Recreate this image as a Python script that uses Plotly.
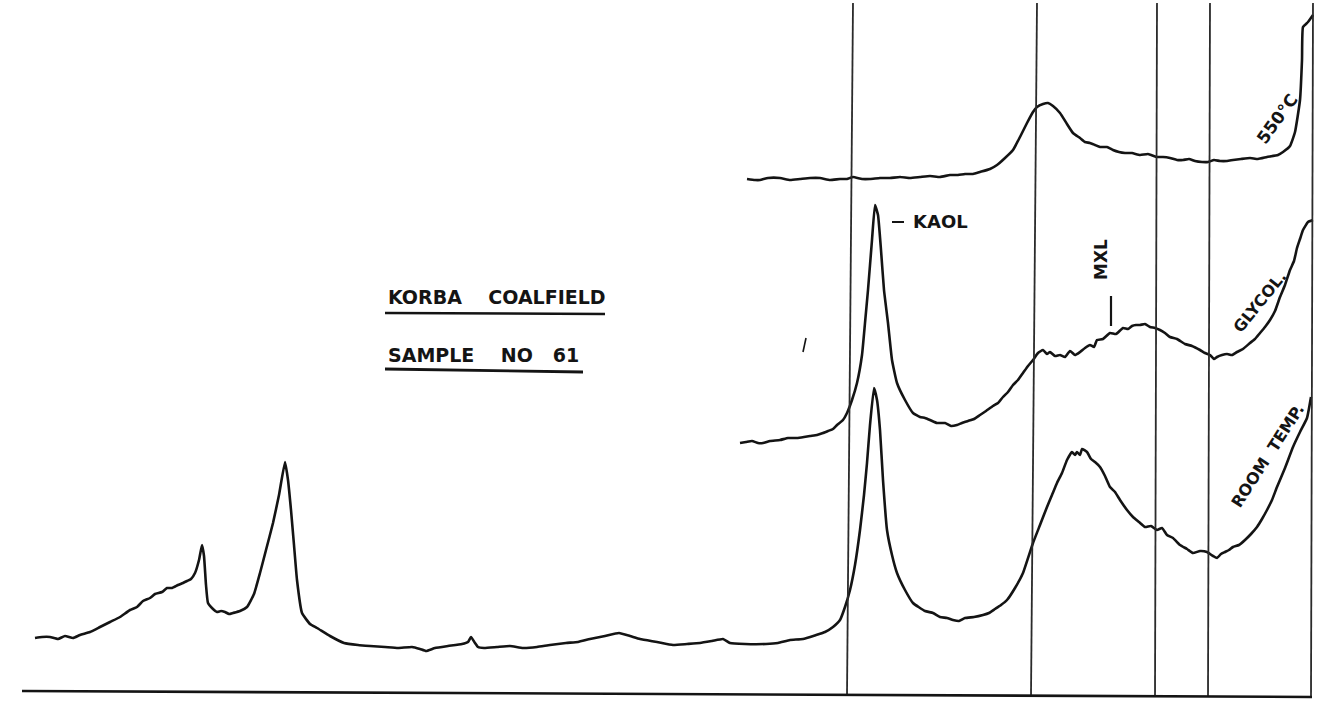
import plotly.graph_objects as go

# X-ray diffractogram traces (position along the chart, recorded intensity)
room_x = [35, 42, 50, 58, 65, 73, 80, 90, 100, 110, 120, 130, 137, 143, 150, 155, 162, 167, 172, 178, 183,
          187, 191, 195, 199, 202, 204, 206, 208, 213, 217, 221, 225, 229, 233, 240, 247, 254, 260, 266,
          273, 279, 285, 288, 291, 294, 297, 302, 310, 317, 330, 344, 358, 370, 385, 398, 412, 420, 426,
          435, 448, 462, 468, 471, 475, 478, 484, 497, 510, 523, 537, 550, 566, 578, 590, 605, 619, 630,
          640, 657, 673, 687, 700, 712, 723, 730, 745, 766, 778, 790, 803, 816, 825, 833, 840, 845, 850,
          855, 860, 864, 867, 870, 874, 877, 880, 883, 887, 892, 897, 905, 913, 925, 933, 940, 947, 953,
          959, 965, 974, 983, 989, 995, 1001, 1007, 1015, 1023, 1033, 1040, 1047, 1052, 1057, 1062, 1067,
          1072, 1075, 1077, 1080, 1082, 1087, 1091, 1095, 1100, 1105, 1110, 1115, 1120, 1127, 1133, 1139,
          1145, 1151, 1157, 1162, 1167, 1173, 1180, 1187, 1193, 1200, 1207, 1213, 1217, 1221, 1225, 1229,
          1233, 1239, 1245, 1251, 1257, 1262, 1267, 1272, 1277, 1285, 1293, 1300, 1307, 1311]
room_y = [71, 72, 72, 70, 73, 71, 74, 77, 82, 87, 92, 99, 102, 108, 111, 115, 117, 121, 121, 124, 126,
          128, 130, 136, 149, 164, 153, 124, 106, 100, 97, 98, 97, 95, 96, 98, 102, 115, 136, 159,
          186, 214, 247, 229, 199, 164, 129, 96, 85, 81, 73, 66, 64, 63, 62, 61, 62, 60, 58,
          61, 63, 65, 67, 72, 66, 62, 61, 62, 63, 61, 62, 64, 66, 67, 70, 73, 76, 73,
          70, 67, 64, 65, 66, 68, 70, 66, 65, 65, 66, 69, 70, 74, 77, 82, 89, 102, 119,
          144, 179, 214, 246, 284, 321, 309, 279, 229, 179, 154, 136, 119, 106, 98, 96, 92, 91, 89,
          88, 91, 92, 94, 96, 100, 104, 109, 121, 136, 166, 184, 202, 214, 226, 236, 249,
          257, 254, 257, 254, 260, 257, 250, 247, 242, 233, 222, 217, 209, 199, 192, 187,
          182, 183, 179, 181, 174, 171, 164, 160, 156, 158, 157, 153, 151, 155, 157, 159,
          162, 164, 169, 175, 182, 190, 199, 209, 222, 241, 262, 277, 291, 312]

glycol_x = [740, 746, 752, 758, 763, 770, 780, 788, 797, 804, 810, 817, 823, 828, 833, 837, 843, 847, 852,
            857, 862, 865, 868, 872, 875, 878, 881, 884, 888, 892, 897, 905, 913, 920, 925, 930, 937, 945,
            951, 957, 962, 968, 974, 980, 986, 993, 998, 1003, 1008, 1013, 1018, 1023, 1028, 1033, 1038,
            1043, 1047, 1050, 1055, 1060, 1065, 1070, 1075, 1080, 1085, 1090, 1094, 1097, 1103, 1110, 1116,
            1123, 1128, 1132, 1136, 1140, 1145, 1150, 1155, 1160, 1165, 1170, 1177, 1185, 1192, 1200, 1205,
            1210, 1214, 1217, 1222, 1227, 1232, 1237, 1243, 1250, 1255, 1260, 1265, 1270, 1275, 1280, 1285,
            1290, 1294, 1297, 1300, 1303, 1308, 1313]
glycol_y = [266, 267, 268, 266, 266, 268, 269, 271, 271, 272, 273, 274, 276, 278, 280, 284, 289, 296, 309,
            326, 354, 386, 419, 469, 504, 494, 459, 419, 386, 349, 326, 309, 296, 292, 291, 289, 286, 286,
            283, 284, 286, 288, 290, 294, 298, 303, 306, 312, 317, 324, 329, 336, 343, 349, 356,
            359, 355, 357, 353, 354, 352, 358, 354, 357, 361, 364, 362, 369, 370, 376, 375,
            381, 380, 383, 384, 384, 385, 382, 381, 379, 376, 372, 370, 365, 363, 359, 356,
            354, 350, 352, 354, 355, 354, 357, 360, 366, 370, 376, 382, 389, 398, 412, 424,
            439, 448, 461, 470, 479, 487, 489]

heated_x = [747, 755, 760, 768, 780, 790, 800, 810, 820, 830, 840, 847, 853, 862, 870, 880, 890, 900, 910,
            920, 930, 940, 950, 958, 965, 973, 980, 990, 997, 1005, 1013, 1020, 1027, 1033, 1037, 1043,
            1048, 1053, 1060, 1067, 1073, 1080, 1085, 1090, 1095, 1100, 1107, 1113, 1119, 1125, 1132,
            1140, 1148, 1157, 1163, 1170, 1177, 1183, 1189, 1195, 1202, 1208, 1214, 1220, 1227, 1233,
            1241, 1250, 1258, 1267, 1278, 1283, 1290, 1295, 1300, 1302, 1303, 1308, 1313]
heated_y = [530, 529, 529, 531, 531, 529, 530, 531, 531, 529, 530, 530, 532, 530, 530, 531, 531, 532, 531,
            532, 533, 532, 534, 534, 535, 535, 537, 540, 544, 551, 559, 572, 586, 597, 602, 605,
            606, 603, 596, 585, 576, 571, 567, 566, 564, 562, 562, 559, 557, 556, 556,
            554, 555, 552, 552, 551, 549, 549, 550, 548, 547, 547, 549, 548, 548, 549,
            550, 551, 550, 552, 554, 557, 563, 577, 609, 649, 682, 687, 694]

# Reference reflection positions (top, bottom of each ruled line)
ref_top = [853, 1037, 1157, 1210, 1313]
ref_bottom = [847, 1031, 1155, 1208, 1311]

INK = "#141414"
FONT = "DejaVu Sans"

fig = go.Figure()
for xs, ys in [(room_x, room_y), (glycol_x, glycol_y), (heated_x, heated_y)]:
    fig.add_trace(go.Scatter(x=xs, y=ys, mode="lines",
                             line=dict(color=INK, width=2.6, shape="spline", smoothing=0.4),
                             hoverinfo="skip", showlegend=False))

shapes = []
for xt, xb in zip(ref_top, ref_bottom):
    shapes.append(dict(type="line", xref="x", yref="y", x0=xb, y0=13, x1=xt, y1=706,
                       line=dict(color="#2b2b2b", width=1.8)))
# base line of the record
shapes.append(dict(type="line", xref="x", yref="y", x0=22, y0=18, x1=1312, y1=12,
                   line=dict(color=INK, width=2.6)))
# underlines of the title block
shapes.append(dict(type="line", xref="x", yref="y", x0=385, y0=396, x1=605, y1=395,
                   line=dict(color=INK, width=2.6)))
shapes.append(dict(type="line", xref="x", yref="y", x0=385, y0=340, x1=583, y1=337,
                   line=dict(color=INK, width=2.8)))
# MXL marker tick
shapes.append(dict(type="line", xref="x", yref="y", x0=1111, y0=413, x1=1111, y1=383,
                   line=dict(color=INK, width=2.2)))
# KAOL marker dash
shapes.append(dict(type="line", xref="x", yref="y", x0=892, y0=487, x1=904, y1=487,
                   line=dict(color=INK, width=2.0)))
# stray pen mark
shapes.append(dict(type="line", xref="x", yref="y", x0=803, y0=357, x1=806, y1=371,
                   line=dict(color=INK, width=1.6)))

def label(text, x, y, size=18, angle=0, xanchor="center"):
    return dict(text=text, x=x, y=y, xref="x", yref="y", showarrow=False,
                textangle=angle, xanchor=xanchor, yanchor="middle",
                font=dict(family=FONT, size=size, color=INK, weight="bold"))

SP = "&nbsp;"
annotations = [
    label("KORBA" + SP * 4 + "COALFIELD", 386, 412, size=19, xanchor="left"),
    label("SAMPLE" + SP * 4 + "NO" + SP * 3 + "61", 386, 354, size=19, xanchor="left"),
    label("KAOL", 911, 488, size=18, xanchor="left"),
    label("MXL", 1101, 449, size=17, angle=-90),
    label("550°C", 1277, 590, size=17, angle=-54),
    label("GLYCOL.", 1259, 407, size=16, angle=-51),
    label("ROOM" + SP * 2 + "TEMP.", 1267, 253, size=16, angle=-57),
]

fig.update_layout(
    width=1323, height=709,
    margin=dict(l=0, r=0, t=0, b=0),
    paper_bgcolor="white", plot_bgcolor="white",
    xaxis=dict(range=[0, 1323], visible=False, fixedrange=True),
    yaxis=dict(range=[0, 709], visible=False, fixedrange=True),
    shapes=shapes, annotations=annotations,
)

fig.write_html("out.html")
